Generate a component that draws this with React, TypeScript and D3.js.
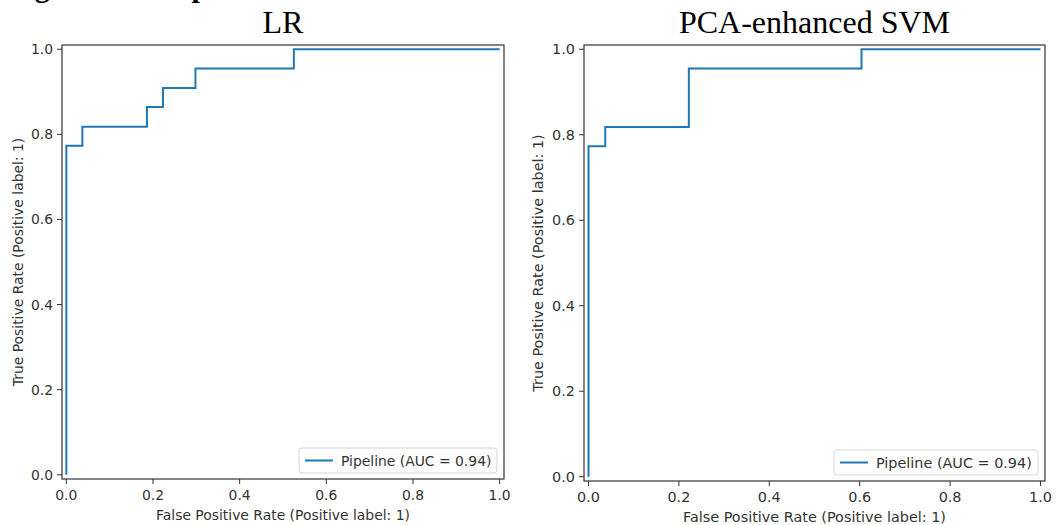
import React from "react";
import * as d3 from "d3";

// ROC curve points
const lrFpr = [0, 0, 0.037, 0.037, 0.186, 0.186, 0.223, 0.223, 0.298, 0.298, 0.525, 0.525, 1];
const lrTpr = [0, 0.773, 0.773, 0.818, 0.818, 0.864, 0.864, 0.909, 0.909, 0.955, 0.955, 1, 1];

const svmFpr = [0, 0, 0.037, 0.037, 0.222, 0.222, 0.604, 0.604, 1];
const svmTpr = [0, 0.773, 0.773, 0.818, 0.818, 0.955, 0.955, 1, 1];

const titles = ["LR", "PCA-enhanced SVM"];
const legendLabel = "Pipeline (AUC = 0.94)";
const xLabel = "False Positive Rate (Positive label: 1)";
const yLabel = "True Positive Rate (Positive label: 1)";
const caption = "Figure 5. Comparison of ROC curves";

const BLUE = "#1f77b4";
const INK = "#333";
const SANS = "'DejaVu Sans', sans-serif";
const SERIF = "'Liberation Serif', 'Times New Roman', serif";

type Frame = { left: number; right: number; top: number; bottom: number };

function RocPanel({
  frame,
  title,
  fpr,
  tpr,
  fontSize,
  yLabelX,
  legendWidth,
}: {
  frame: Frame;
  title: string;
  fpr: number[];
  tpr: number[];
  fontSize: number;
  yLabelX: number;
  legendWidth: number;
}) {
  const x = d3.scaleLinear().domain([-0.01, 1.01]).range([frame.left, frame.right]);
  const y = d3.scaleLinear().domain([-0.01, 1.01]).range([frame.bottom, frame.top]);
  const fmt = d3.format(".1f");
  const ticks = x.ticks(5);

  const pts: [number, number][] = fpr.map((f, i) => [f, tpr[i]]);
  const line = d3
    .line<[number, number]>()
    .x((d) => x(d[0]))
    .y((d) => y(d[1]));

  const cx = (frame.left + frame.right) / 2;
  const cy = (frame.top + frame.bottom) / 2;

  // legend in lower right
  const lh = 25;
  const lx = frame.right - 7 - legendWidth;
  const ly = frame.bottom - 6 - lh;

  return (
    <g>
      <text x={cx} y={33} textAnchor="middle" fontFamily={SERIF} fontSize={32} fill="#000">
        {title}
      </text>

      <path d={line(pts) ?? ""} fill="none" stroke={BLUE} strokeWidth={2} />

      <rect
        x={frame.left}
        y={frame.top}
        width={frame.right - frame.left}
        height={frame.bottom - frame.top}
        fill="none"
        stroke={INK}
        strokeWidth={1.2}
      />

      {/* x axis */}
      {ticks.map((t) => (
        <g key={"x" + t}>
          <line x1={x(t)} x2={x(t)} y1={frame.bottom} y2={frame.bottom + 5} stroke={INK} />
          <text
            x={x(t)}
            y={frame.bottom + 21}
            textAnchor="middle"
            fontFamily={SANS}
            fontSize={fontSize}
            fill={INK}
          >
            {fmt(t)}
          </text>
        </g>
      ))}
      <text
        x={cx}
        y={frame.bottom + 41}
        textAnchor="middle"
        fontFamily={SANS}
        fontSize={fontSize}
        fill={INK}
      >
        {xLabel}
      </text>

      {/* y axis */}
      {ticks.map((t) => (
        <g key={"y" + t}>
          <line x1={frame.left - 5} x2={frame.left} y1={y(t)} y2={y(t)} stroke={INK} />
          <text
            x={frame.left - 9}
            y={y(t)}
            dy="0.36em"
            textAnchor="end"
            fontFamily={SANS}
            fontSize={fontSize}
            fill={INK}
          >
            {fmt(t)}
          </text>
        </g>
      ))}
      <text
        transform={`translate(${yLabelX},${cy}) rotate(-90)`}
        textAnchor="middle"
        dy="0.36em"
        fontFamily={SANS}
        fontSize={fontSize}
        fill={INK}
      >
        {yLabel}
      </text>

      {/* legend */}
      <rect x={lx} y={ly} width={legendWidth} height={lh} rx={3} fill="#fff" stroke="#d6d6d6" />
      <line x1={lx + 6} x2={lx + 34} y1={ly + lh / 2} y2={ly + lh / 2} stroke={BLUE} strokeWidth={2} />
      <text
        x={lx + 42}
        y={ly + lh / 2}
        dy="0.36em"
        fontFamily={SANS}
        fontSize={fontSize}
        fill={INK}
      >
        {legendLabel}
      </text>
    </g>
  );
}

export default function App() {
  return (
    <svg
      width={1062}
      height={525}
      style={{ position: "absolute", left: 0, top: 0, background: "#fff" }}
    >
      <text x={8} y={-3} fontFamily={SERIF} fontWeight="bold" fontSize={30} fill="#000">
        {caption}
      </text>
      <RocPanel
        frame={{ left: 62, right: 504, top: 45, bottom: 479 }}
        title={titles[0]}
        fpr={lrFpr}
        tpr={lrTpr}
        fontSize={13.9}
        yLabelX={18}
        legendWidth={198}
      />
      <RocPanel
        frame={{ left: 584, right: 1045, top: 45, bottom: 481 }}
        title={titles[1]}
        fpr={svmFpr}
        tpr={svmTpr}
        fontSize={14.4}
        yLabelX={538}
        legendWidth={204}
      />
    </svg>
  );
}
